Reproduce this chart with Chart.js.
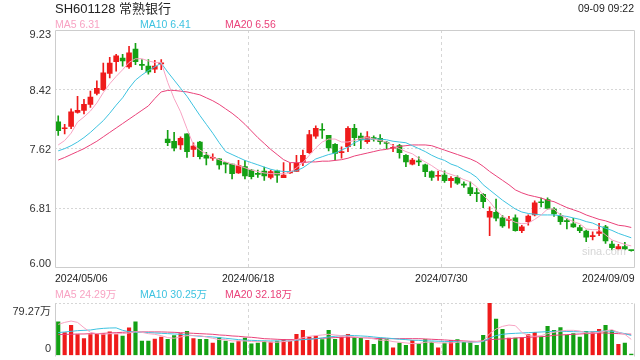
<!DOCTYPE html>
<html>
<head>
<meta charset="utf-8">
<script src="https://cdn.jsdelivr.net/npm/chart.js@4.4.1/dist/chart.umd.min.js"></script>
<style>
    body { margin: 0; background: #fff; }
    #wrap {
        position: relative; width: 640px; height: 360px; overflow: hidden;
        font-family: "Liberation Sans", Arial, "Noto Sans CJK SC", sans-serif;
    }
    canvas { position: absolute; left: 0; }
    .txt { position: absolute; white-space: nowrap; line-height: 1; }
</style>
</head>
<body>
<div id="wrap">
    <canvas id="priceChart" width="640" height="290" style="top:0"></canvas>
    <canvas id="volChart" width="640" height="70" style="top:290px"></canvas>
    <div class="txt" style="left:55px;top:2px;font-size:13px;color:#222">SH601128 常熟银行</div>
    <div class="txt" style="right:6px;top:3px;font-size:10.5px;color:#222">09-09 09:22</div>
    <div class="txt" style="left:582px;top:246px;font-size:11px;color:#d6d6d6">sina.com</div>
    <div id="priceLegend"></div>
    <div id="volLegend"></div>
</div>
<script>
// trading days shown
const dates = [
    '2024/05/06','2024/05/07','2024/05/08','2024/05/09','2024/05/10','2024/05/13','2024/05/14','2024/05/15','2024/05/16','2024/05/17',
    '2024/05/20','2024/05/21','2024/05/22','2024/05/23','2024/05/24','2024/05/27','2024/05/28','2024/05/29','2024/05/30','2024/05/31',
    '2024/06/03','2024/06/04','2024/06/05','2024/06/06','2024/06/07','2024/06/11','2024/06/12','2024/06/13','2024/06/14','2024/06/17',
    '2024/06/18','2024/06/19','2024/06/20','2024/06/21','2024/06/24','2024/06/25','2024/06/26','2024/06/27','2024/06/28',
    '2024/07/01','2024/07/02','2024/07/03','2024/07/04','2024/07/05','2024/07/08','2024/07/09','2024/07/10','2024/07/11','2024/07/12',
    '2024/07/15','2024/07/16','2024/07/17','2024/07/18','2024/07/19','2024/07/22','2024/07/23','2024/07/24','2024/07/25','2024/07/26',
    '2024/07/29','2024/07/30','2024/07/31',
    '2024/08/01','2024/08/02','2024/08/05','2024/08/06','2024/08/07','2024/08/08','2024/08/09','2024/08/12','2024/08/13','2024/08/14',
    '2024/08/15','2024/08/16','2024/08/19','2024/08/20','2024/08/21','2024/08/22','2024/08/23','2024/08/26','2024/08/27','2024/08/28',
    '2024/08/29','2024/08/30',
    '2024/09/02','2024/09/03','2024/09/04','2024/09/05','2024/09/06','2024/09/09'
];

const opens = [
    7.985, 7.89, 7.92, 8.11, 8.14, 8.22, 8.37, 8.42, 8.64, 8.80,
    8.85, 8.73, 8.97, 8.76, 8.74, 8.70, 8.77, 7.75, 7.72, 7.67,
    7.82, 7.61, 7.71, 7.53, 7.49, 7.48, 7.43, 7.41, 7.29, 7.375,
    7.33, 7.275, 7.316, 7.23, 7.32, 7.225, 7.29, 7.31, 7.44, 7.565,
    7.79, 7.875, 7.80, 7.68, 7.565, 7.646, 7.895, 7.79, 7.714, 7.77,
    7.76, 7.695, 7.625, 7.66, 7.53, 7.41, 7.445, 7.40, 7.307, 7.245,
    7.26, 7.185, 7.23, 7.13, 7.09, 7.015, 7.00, 6.69, 6.755, 6.68,
    6.645, 6.68, 6.506, 6.63, 6.72, 6.89, 6.93, 6.80, 6.71, 6.635,
    6.60, 6.55, 6.50, 6.425, 6.47, 6.56, 6.325, 6.26, 6.29, 6.24
];
const closes = [
    7.863, 7.90, 8.12, 8.14, 8.22, 8.32, 8.44, 8.65, 8.78, 8.88,
    8.81, 8.92, 8.80, 8.75, 8.66, 8.74, 8.78, 7.70, 7.63, 7.76,
    7.58, 7.655, 7.51, 7.49, 7.50, 7.40, 7.41, 7.28, 7.39, 7.25,
    7.24, 7.27, 7.25, 7.31, 7.26, 7.26, 7.31, 7.42, 7.53, 7.81,
    7.895, 7.87, 7.63, 7.556, 7.575, 7.895, 7.77, 7.737, 7.78, 7.75,
    7.714, 7.69, 7.635, 7.565, 7.44, 7.465, 7.44, 7.307, 7.23, 7.255,
    7.185, 7.217, 7.15, 7.125, 7.01, 7.01, 6.90, 6.77, 6.675, 6.57,
    6.655, 6.506, 6.56, 6.706, 6.886, 6.885, 6.81, 6.733, 6.63, 6.63,
    6.556, 6.506, 6.417, 6.435, 6.49, 6.366, 6.276, 6.29, 6.258, 6.235
];
const highs = [
    8.066, 7.95, 8.16, 8.33, 8.29, 8.40, 8.54, 8.78, 8.86, 8.90,
    8.90, 9.01, 9.05, 8.83, 8.83, 8.82, 8.83, 7.87, 7.84, 7.78,
    7.82, 7.70, 7.72, 7.57, 7.55, 7.48, 7.43, 7.41, 7.46, 7.46,
    7.34, 7.33, 7.37, 7.33, 7.33, 7.43, 7.42, 7.53, 7.60, 7.87,
    7.93, 7.96, 7.80, 7.69, 7.646, 7.92, 7.95, 7.83, 7.85, 7.795,
    7.81, 7.72, 7.68, 7.68, 7.54, 7.49, 7.51, 7.41, 7.32, 7.316,
    7.32, 7.24, 7.25, 7.17, 7.17, 7.08, 7.01, 6.83, 6.936, 6.71,
    6.70, 6.72, 6.58, 6.72, 6.91, 6.95, 6.954, 6.82, 6.74, 6.675,
    6.675, 6.58, 6.515, 6.49, 6.606, 6.58, 6.366, 6.32, 6.35, 6.24
];
const lows = [
    7.80, 7.82, 7.89, 8.10, 8.09, 8.18, 8.35, 8.41, 8.58, 8.67,
    8.74, 8.71, 8.76, 8.69, 8.63, 8.65, 8.69, 7.66, 7.59, 7.61,
    7.50, 7.51, 7.48, 7.40, 7.46, 7.34, 7.29, 7.21, 7.285, 7.21,
    7.21, 7.23, 7.19, 7.21, 7.16, 7.225, 7.285, 7.31, 7.39, 7.556,
    7.76, 7.76, 7.59, 7.465, 7.49, 7.58, 7.66, 7.62, 7.69, 7.72,
    7.68, 7.62, 7.58, 7.49, 7.375, 7.40, 7.39, 7.24, 7.19, 7.19,
    7.163, 7.095, 7.135, 7.095, 6.98, 6.90, 6.82, 6.44, 6.64, 6.55,
    6.54, 6.50, 6.48, 6.58, 6.706, 6.83, 6.80, 6.70, 6.59, 6.53,
    6.55, 6.48, 6.357, 6.38, 6.44, 6.335, 6.244, 6.244, 6.244, 6.23
];

const ma5 = [
    7.67, 7.73, 7.83, 7.98, 8.05, 8.13, 8.24, 8.38, 8.50, 8.60,
    8.69, 8.79, 8.84, 8.84, 8.81, 8.79, 8.79, 8.52, 8.30, 8.12,
    7.89, 7.67, 7.60, 7.55, 7.50, 7.47, 7.44, 7.41, 7.39, 7.36,
    7.33, 7.31, 7.29, 7.28, 7.28, 7.28, 7.30, 7.36, 7.43, 7.53,
    7.63, 7.71, 7.75, 7.75, 7.71, 7.71, 7.73, 7.76, 7.77, 7.75,
    7.73, 7.71, 7.66, 7.62, 7.58, 7.55, 7.49, 7.44, 7.39, 7.33,
    7.30, 7.27, 7.24, 7.20, 7.17, 7.10, 6.99, 6.90, 6.79, 6.70,
    6.66, 6.62, 6.60, 6.61, 6.66, 6.72, 6.80, 6.80, 6.72, 6.67,
    6.63, 6.60, 6.53, 6.52, 6.52, 6.45, 6.38, 6.35, 6.32, 6.30
];
const ma10 = [
    7.59, 7.62, 7.66, 7.71, 7.77, 7.84, 7.92, 8.00, 8.10, 8.21,
    8.31, 8.44, 8.55, 8.62, 8.68, 8.73, 8.78, 8.66, 8.55, 8.44,
    8.33, 8.20, 8.07, 7.95, 7.83, 7.70, 7.58, 7.54, 7.50, 7.46,
    7.43, 7.40, 7.37, 7.34, 7.32, 7.31, 7.31, 7.32, 7.36, 7.42,
    7.48, 7.51, 7.54, 7.56, 7.60, 7.64, 7.70, 7.74, 7.75, 7.75,
    7.75, 7.74, 7.72, 7.71, 7.70, 7.66, 7.62, 7.58, 7.53, 7.49,
    7.46, 7.41, 7.38, 7.33, 7.29, 7.23, 7.13, 7.06, 6.99, 6.92,
    6.86, 6.80, 6.76, 6.74, 6.73, 6.72, 6.72, 6.72, 6.71, 6.70,
    6.68, 6.66, 6.63, 6.61, 6.57, 6.54, 6.51, 6.47, 6.44, 6.41
];
const ma20 = [
    7.465, 7.50, 7.54, 7.58, 7.62, 7.67, 7.72, 7.78, 7.84, 7.90,
    7.96, 8.02, 8.08, 8.14, 8.20, 8.30, 8.39, 8.41, 8.41, 8.40,
    8.39, 8.37, 8.35, 8.31, 8.27, 8.22, 8.16, 8.10, 8.03, 7.95,
    7.86, 7.77, 7.69, 7.61, 7.54, 7.47, 7.43, 7.43, 7.43, 7.44,
    7.44, 7.45, 7.45, 7.46, 7.47, 7.49, 7.52, 7.54, 7.56, 7.58,
    7.60, 7.61, 7.63, 7.65, 7.66, 7.67, 7.67, 7.67, 7.66, 7.63,
    7.60, 7.57, 7.54, 7.51, 7.48, 7.44, 7.38, 7.31, 7.25, 7.19,
    7.13, 7.06, 7.02, 6.99, 6.97, 6.95, 6.92, 6.90, 6.86, 6.82,
    6.79, 6.76, 6.72, 6.69, 6.66, 6.64, 6.61, 6.58, 6.57, 6.55
];

// volume, 万 shares
const volumes = [
    50.8, 34.6, 45.7, 31.5, 25.4, 31.5, 33.0, 33.0, 35.6, 31.5,
    29.5, 41.7, 50.8, 21.8, 21.8, 24.9, 27.9, 24.4, 29.9, 33.0,
    36.6, 25.4, 24.4, 24.4, 18.8, 26.9, 21.8, 18.8, 21.8, 26.4,
    17.8, 18.8, 21.8, 20.3, 21.8, 23.9, 21.8, 32.0, 38.1, 27.9,
    29.5, 23.9, 38.1, 24.4, 27.9, 32.0, 26.9, 26.4, 22.9, 16.8,
    26.4, 23.9, 11.7, 18.8, 15.2, 22.9, 17.8, 23.9, 20.3, 11.7,
    18.8, 22.9, 23.9, 20.3, 20.3, 15.2, 30.5, 79.27, 54.9, 39.6,
    26.4, 26.4, 26.9, 31.5, 35.1, 27.9, 44.2, 38.1, 42.2, 30.5,
    33.0, 27.9, 36.6, 35.6, 39.6, 45.7, 38.1, 16.8, 18.8, 2.0
];
const volMa5 = [
    47, 50, 52, 50, 42, 35, 33, 32, 33, 33,
    33, 34, 36, 35, 33, 32, 30, 27, 26, 28,
    30, 30, 30, 28, 26, 24, 24, 22, 22, 22,
    21, 21, 21, 20, 20, 21, 22, 24, 27, 29,
    30, 31, 32, 31, 30, 29, 28, 27, 27, 25,
    23, 23, 21, 20, 19, 18, 18, 20, 20, 19,
    19, 19, 20, 21, 20, 21, 22, 33, 40, 44,
    46, 45, 35, 30, 29, 30, 33, 35, 37, 38,
    38, 37, 34, 34, 35, 37, 39, 35, 32, 24.29
];
const volMa10 = [
    34.6, 35.5, 36.5, 37.5, 38, 38.5, 40, 41, 41.5, 41.7,
    38, 36, 35, 35, 34.6, 34, 33.5, 33, 32.5, 32,
    31, 30, 29, 28.5, 28, 27, 26, 25, 24, 23,
    22.9, 22.5, 22, 22, 22, 21.8, 22, 23, 24, 24.5,
    25.4, 26.5, 28, 29, 30, 30.5, 30, 29.5, 29, 28,
    27, 26.4, 25.5, 24.5, 24, 23, 22.9, 22, 22, 21.5,
    21.3, 21, 20.8, 20.5, 20.3, 20.3, 21, 26.4, 30, 32,
    33, 33.5, 34, 34.5, 35, 35.5, 36, 36.6, 36.5, 36.3,
    36, 35.8, 35.6, 35.8, 36.5, 37.1, 36.5, 35, 33, 30.25
];
const volMa20 = [
    31.5, 32, 32, 32.5, 32.5, 33, 33, 33.5, 34, 34.5,
    35, 35.6, 35.6, 35.6, 35.6, 35.6, 35.6, 35.3, 35, 34.5,
    34, 33.5, 33, 32.5, 32, 31, 30.5, 29.5, 29, 28,
    27.5, 26.5, 25.4, 25, 24.5, 24, 24, 23.9, 24.5, 25,
    25.4, 26, 26.5, 27, 27.5, 27.9, 27.5, 27, 26.5, 26,
    25.5, 25.4, 25.4, 25.4, 25.4, 25.4, 25.4, 25, 24.5, 24,
    23.5, 22.9, 22.5, 22, 21.5, 21.3, 22, 23.9, 24.5, 25,
    25.5, 26.4, 27, 27.5, 28, 28.5, 29, 30.5, 31, 31.5,
    32, 32.5, 33, 33.5, 34, 34, 33.5, 33, 32.5, 32.18
];

const priceTicks = [6.00, 6.81, 7.62, 8.42, 9.23];
const priceTickLabels = ['6.00', '6.81', '7.62', '8.42', '9.23'];
const volTicks = [0, 79.27];
const volTickLabels = ['0', '79.27万'];
const dateLabelIdx = [0, 30, 60, 89];
const dividerIdx = [30, 60];
const priceLegend = ['MA5 6.31', 'MA10 6.41', 'MA20 6.56'];
const volLegend = ['MA5 24.29万', 'MA10 30.25万', 'MA20 32.18万'];

const RED = '#ef1b1b';
const GREEN = '#14a014';
const MA_COLORS = ['#f8a3c3', '#3ec3e0', '#ea427a'];
const FRAME = '#cdcdcd';
const GRID = '#d6d6d6';
const FONT = '"Liberation Sans", Arial, "Noto Sans CJK SC", sans-serif';
const NONE = 'rgba(0,0,0,0)';

const upDown = closes.map((c, i) => c >= opens[i] ? RED : GREEN);

function renderLegend(id, items, top) {
    const el = document.getElementById(id);
    const lefts = [55, 140, 225];
    el.innerHTML = items.map((t, i) =>
        `<div class="txt" style="left:${lefts[i]}px;top:${top}px;font-size:10.5px;color:${MA_COLORS[i]}">${t}</div>`
    ).join('');
}
renderLegend('priceLegend', priceLegend, 18.5);
renderLegend('volLegend', volLegend, 288.5);

// box round the plot area
const framePlugin = {
    id: 'frame',
    afterDraw(chart, args, opts) {
        const { ctx, chartArea: a } = chart;
        const x1 = Math.round(a.left) + 0.5, x2 = Math.round(a.right) - 0.5;
        const y1 = Math.round(a.top) + 0.5, y2 = Math.round(a.bottom) - 0.5;
        ctx.save();
        ctx.strokeStyle = FRAME;
        ctx.lineWidth = 1;
        ctx.beginPath();
        if (opts.full) {
            ctx.rect(x1, y1, x2 - x1, y2 - y1);
        } else {
            ctx.moveTo(x1, y1); ctx.lineTo(x1, y2 + 1);
            ctx.moveTo(x2, y1); ctx.lineTo(x2, y2 + 1);
        }
        ctx.stroke();
        ctx.restore();
    }
};

// tick labels: end labels sit inside the box
const axisTextPlugin = {
    id: 'axisText',
    afterDraw(chart, args, opts) {
        const { ctx } = chart;
        const ys = chart.scales.y, xs = chart.scales.x;
        ctx.save();
        ctx.font = '11px ' + FONT;
        ctx.fillStyle = '#333';
        ctx.textAlign = 'right';
        ctx.textBaseline = 'alphabetic';
        const last = opts.ticks.length - 1;
        opts.ticks.forEach((v, i) => {
            const off = i === 0 ? opts.lowOff : (i === last ? opts.topOff : 4);
            ctx.fillText(opts.labels[i], ys.right - 4, ys.getPixelForValue(v) + off);
        });
        if (opts.dates) {
            ctx.font = '10.5px ' + FONT;
            ctx.fillStyle = '#222';
            const half = (xs.getPixelForValue(1) - xs.getPixelForValue(0)) / 2;
            const lastIdx = dates.length - 1;
            dateLabelIdx.forEach(i => {
                let px = xs.getPixelForValue(i) - half;
                ctx.textAlign = 'center';
                if (i === 0) ctx.textAlign = 'left';
                if (i === lastIdx) { px += half * 2; ctx.textAlign = 'right'; }
                ctx.fillText(dates[i], px, ys.bottom + 13.7);
            });
        }
        ctx.restore();
    }
};

function xScale() {
    return {
        type: 'category',
        offset: true,
        ticks: { display: false, autoSkip: false },
        grid: {
            offset: true,
            drawTicks: false,
            color: c => dividerIdx.includes(c.index) ? GRID : NONE
        },
        border: { display: false, dash: [3, 3] },
        afterFit: s => { s.height = 0; }
    };
}

function yScale(min, max, ticks) {
    return {
        min: min,
        max: max,
        afterBuildTicks: s => { s.ticks = ticks.map(v => ({ value: v })); },
        ticks: { display: false },
        grid: {
            drawTicks: false,
            color: c => (c.index > 0 && (c.index < ticks.length - 1 || ticks.length === 2)) ? GRID : NONE
        },
        border: { display: false, dash: [2, 2] },
        afterFit: s => { s.width = 55; }
    };
}

function maLine(data, color) {
    return {
        type: 'line',
        data: data,
        borderColor: color,
        borderWidth: 1,
        pointRadius: 0,
        tension: 0,
        fill: false,
        order: 0
    };
}

const common = {
    responsive: false,
    animation: false,
    events: [],
    plugins: { legend: { display: false }, tooltip: { enabled: false } }
};

new Chart(document.getElementById('priceChart'), {
    type: 'bar',
    data: {
        labels: dates,
        datasets: [
            {
                data: opens.map((o, i) => [o, closes[i]]),
                backgroundColor: upDown,
                barThickness: 5,
                minBarLength: 1,
                grouped: false,
                order: 1
            },
            {
                data: lows.map((l, i) => [l, highs[i]]),
                backgroundColor: upDown,
                barThickness: 1,
                grouped: false,
                order: 2
            },
            maLine(ma5, MA_COLORS[0]),
            maLine(ma10, MA_COLORS[1]),
            maLine(ma20, MA_COLORS[2])
        ]
    },
    options: {
        ...common,
        layout: { padding: { top: 30, right: 5.5, bottom: 22, left: 0 } },
        scales: { x: xScale(), y: yScale(6.00, 9.23, priceTicks) },
        plugins: {
            ...common.plugins,
            frame: { full: true },
            axisText: { ticks: priceTicks, labels: priceTickLabels, lowOff: -1.5, topOff: 8, dates: true }
        }
    },
    plugins: [framePlugin, axisTextPlugin]
});

new Chart(document.getElementById('volChart'), {
    type: 'bar',
    data: {
        labels: dates,
        datasets: [
            {
                data: volumes,
                backgroundColor: upDown,
                barThickness: 3.5,
                grouped: false,
                order: 1
            },
            maLine(volMa5, MA_COLORS[0]),
            maLine(volMa10, MA_COLORS[1]),
            maLine(volMa20, MA_COLORS[2])
        ]
    },
    options: {
        ...common,
        layout: { padding: { top: 13, right: 5.5, bottom: 4.5, left: 0 } },
        scales: { x: xScale(), y: yScale(0, 79.27, volTicks) },
        plugins: {
            ...common.plugins,
            frame: { full: false },
            axisText: { ticks: volTicks, labels: volTickLabels, lowOff: -3.5, topOff: 11.7, dates: false }
        }
    },
    plugins: [framePlugin, axisTextPlugin]
});
</script>
</body>
</html>
